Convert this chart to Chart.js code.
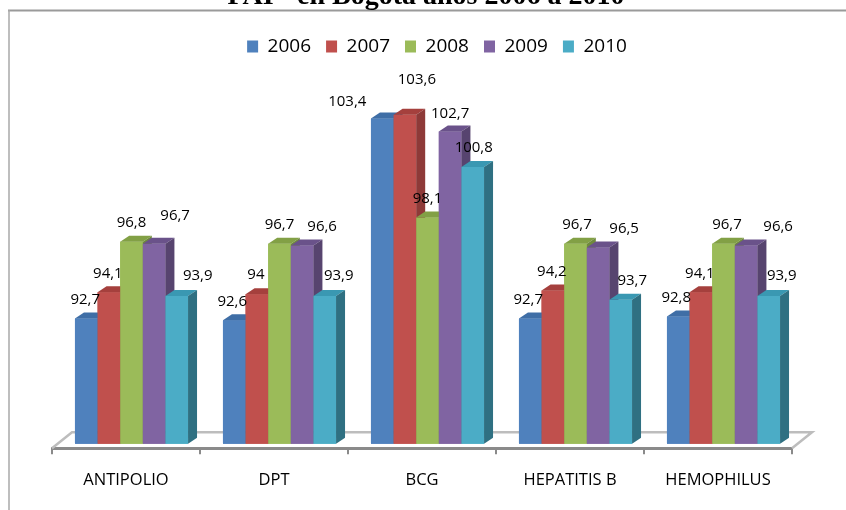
<!DOCTYPE html>
<html><head><meta charset="utf-8">
<script src="https://cdn.jsdelivr.net/npm/chart.js@4.4.1/dist/chart.umd.min.js"></script>
<style>html,body{margin:0;padding:0;background:#fff;overflow:hidden}</style>
</head><body>
<canvas id="c" width="846" height="510"></canvas>
<script>
// ---- data ----
const categories = ['ANTIPOLIO', 'DPT', 'BCG', 'HEPATITIS B', 'HEMOPHILUS'];
const seriesNames = ['2006', '2007', '2008', '2009', '2010'];
const v2006 = [92.7, 92.6, 103.4, 92.7, 92.8];
const v2007 = [94.1, 94.0, 103.6, 94.2, 94.1];
const v2008 = [96.8, 96.7, 98.1, 96.7, 96.7];
const v2009 = [96.7, 96.6, 102.7, 96.5, 96.6];
const v2010 = [93.9, 93.9, 100.8, 93.7, 93.9];
const titleText = 'PAI - en Bogotá años 2006 a 2010';
const yMin = 86, yMax = 106.45;

// ---- styles ----
const frontColors = ['#4F81BD', '#C0504D', '#9BBB59', '#8064A2', '#4BACC6'];
const topColors   = ['#3F6EA6', '#A5403D', '#82A045', '#6A528A', '#3A98B2'];
const sideColors  = ['#365F8E', '#8E3A38', '#6F8A3C', '#57446F', '#2F7082'];
// label nudges (pixels) per series x category, relative to bar centre / top
const labelDX = [
  [-1, -2, -35, -2, -2],
  [-1, -1, 12, -1, -1],
  [0, 0, 0, 1.5, 3.5],
  [21, 20, 0, 26, 32],
  [21, 14, 1, 11.5, 13]
];
const labelDY = [
  [-19, -19, -17, -19, -19],
  [-19, -19, -35, -19, -19],
  [-19, -19, -19, -19, -19],
  [-27.5, -19, -18, -19, -19],
  [-20, -20, -19, -19, -20]
];
const DEPTH_X = 9, DEPTH_Y = -6;      // bar depth
const SHIFT_X = 5.5, SHIFT_Y = -4.5;  // bars sit back on the floor
const FLOOR_X = 20, FLOOR_Y = -16;    // floor depth

const seriesValues = [v2006, v2007, v2008, v2009, v2010];

Chart.defaults.font.family = "'Open Sans', sans-serif";
Chart.defaults.color = '#000';

function fmt(v) { return String(v).replace('.', ','); }

const threeD = {
  id: 'threeD',
  afterLayout(chart) {
    chart.legend.left += 15; chart.legend.right += 15;
    chart.titleBlock.left += 4; chart.titleBlock.right += 4;
  },
  beforeDraw(chart) {
    const ctx = chart.ctx;
    ctx.save();
    ctx.fillStyle = '#fff';
    ctx.fillRect(0, 0, chart.width, chart.height);
    ctx.strokeStyle = '#9a9a9a';
    ctx.lineWidth = 2;
    ctx.beginPath();
    ctx.moveTo(8, 10.5); ctx.lineTo(chart.width, 10.5);
    ctx.stroke();
    ctx.lineWidth = 1.5;
    ctx.strokeStyle = '#a8a8a8';
    ctx.beginPath();
    ctx.moveTo(9, 10); ctx.lineTo(9, chart.height);
    ctx.stroke();
    ctx.restore();
  },
  beforeDatasetsDraw(chart) {
    const ctx = chart.ctx, a = chart.chartArea;
    ctx.save();
    ctx.strokeStyle = '#bdbdbd';
    ctx.lineWidth = 2.5;
    ctx.beginPath();
    ctx.moveTo(a.left, a.bottom);
    ctx.lineTo(a.left + FLOOR_X, a.bottom + FLOOR_Y);
    ctx.lineTo(a.right + FLOOR_X, a.bottom + FLOOR_Y);
    ctx.lineTo(a.right, a.bottom);
    ctx.stroke();
    ctx.restore();
    ctx.save();
    ctx.translate(SHIFT_X, SHIFT_Y);
  },
  afterDatasetsDraw(chart) {
    const ctx = chart.ctx;
    const metas = chart.data.datasets.map((d, i) => chart.getDatasetMeta(i));
    // redraw every bar left-to-right with its top and side faces
    categories.forEach((c, j) => {
      metas.forEach((meta, i) => {
        const bar = meta.data[j];
        bar.draw(ctx);
        const p = bar.getProps(['x', 'y', 'base', 'width'], true);
        const l = p.x - p.width / 2, r = p.x + p.width / 2;
        const t = p.y, b = p.base;
        ctx.fillStyle = topColors[i];
        ctx.beginPath();
        ctx.moveTo(l, t); ctx.lineTo(l + DEPTH_X, t + DEPTH_Y);
        ctx.lineTo(r + DEPTH_X, t + DEPTH_Y); ctx.lineTo(r, t);
        ctx.closePath(); ctx.fill();
        ctx.fillStyle = sideColors[i];
        ctx.beginPath();
        ctx.moveTo(r, t); ctx.lineTo(r + DEPTH_X, t + DEPTH_Y);
        ctx.lineTo(r + DEPTH_X, b + DEPTH_Y); ctx.lineTo(r, b);
        ctx.closePath(); ctx.fill();
      });
    });
    ctx.font = "15px 'Open Sans', sans-serif";
    ctx.fillStyle = '#000';
    ctx.textAlign = 'center';
    ctx.textBaseline = 'middle';
    chart.data.datasets.forEach((ds, i) => {
      metas[i].data.forEach((bar, j) => {
        const p = bar.getProps(['x', 'y'], true);
        ctx.fillText(fmt(ds.data[j]), p.x + labelDX[i][j], p.y + labelDY[i][j]);
      });
    });
    ctx.restore();
  }
};

new Chart(document.getElementById('c'), {
  type: 'bar',
  data: {
    labels: categories,
    datasets: seriesNames.map((n, i) => ({
      label: n,
      data: seriesValues[i],
      backgroundColor: frontColors[i],
      borderWidth: 0,
      base: yMin,
      clip: false,
      categoryPercentage: 0.764,
      barPercentage: 1.0
    }))
  },
  options: {
    responsive: false,
    devicePixelRatio: 1,
    animation: false,
    layout: { padding: { left: 52, right: 54, top: 0, bottom: 4 } },
    plugins: {
      title: {
        display: true,
        text: titleText,
        font: { family: "'Liberation Serif', serif", size: 28, weight: 'bold', lineHeight: 1.0 },
        color: '#000',
        padding: { top: -17, bottom: 11 }
      },
      legend: {
        display: true,
        position: 'top',
        labels: {
          boxWidth: 11, boxHeight: 12, padding: 15,
          font: { size: 19 }, color: '#000'
        }
      },
      tooltip: { enabled: false }
    },
    scales: {
      x: {
        grid: { display: true, drawOnChartArea: false, drawTicks: true, tickLength: 6, color: '#8a8a8a', lineWidth: 2, offset: true },
        border: { display: true, color: '#8a8a8a', width: 3 },
        ticks: { font: { size: 16.5 }, color: '#000', padding: 16 }
      },
      y: {
        display: false,
        min: yMin,
        max: yMax
      }
    }
  },
  plugins: [threeD]
});
</script>
</body></html>
